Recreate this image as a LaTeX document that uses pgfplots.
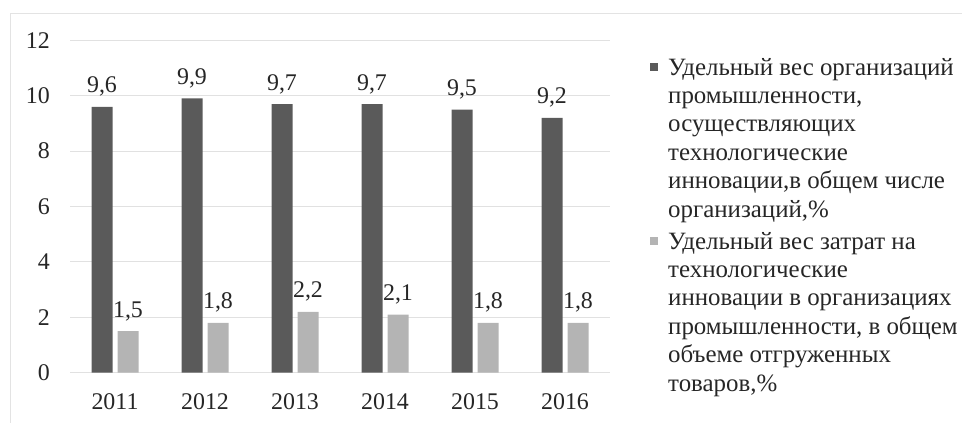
\documentclass[border=0pt]{standalone}
\usepackage{fontspec}
\setmainfont{Liberation Serif}
\usepackage{pgfplots}
\pgfplotsset{compat=1.18}
\definecolor{darkbar}{RGB}{90,90,90}
\definecolor{lightbar}{RGB}{180,180,180}
\definecolor{txt}{RGB}{38,38,38}
\definecolor{gridc}{RGB}{225,225,225}
\begin{document}
\begin{tikzpicture}[x=1bp,y=1bp]
\useasboundingbox (0,0) rectangle (962,422);
\draw[gray!22] (10,-5) -- (10,409) -- (970,409);
\begin{axis}[
  at={(70bp,49.3bp)}, anchor=south west,
  scale only axis, width=540bp, height=332.4bp,
  xmin=-0.5, xmax=5.5, ymin=0, ymax=12,
  ybar=5bp, bar width=21bp,
  xtick={0,1,2,3,4,5},
  xticklabels={2011,2012,2013,2014,2015,2016},
  ytick={0,2,4,6,8,10,12},
  axis line style={draw=none},
  major tick length=0pt,
  ymajorgrids, grid style={gridc, line width=1bp},
  font=\fontsize{24}{28}\selectfont,
  /pgf/number format/assume math mode=true,
  tick label style={text=txt},
  xticklabel style={anchor=base, inner sep=0pt, yshift=-37bp},
  yticklabel style={anchor=east, inner sep=0pt, xshift=-20bp},
  nodes near coords,
  nodes near coords style={text=txt, font=\fontsize{24}{28}\selectfont,
    /pgf/number format/fixed, /pgf/number format/fixed zerofill,
    /pgf/number format/precision=1, /pgf/number format/use comma,
    /pgf/number format/assume math mode=true},
  every node near coord/.append style={anchor=base, inner sep=0pt, yshift=14bp},
  legend style={at={(1,1)}, anchor=north west, xshift=40bp, yshift=-17.5bp,
    draw=none, fill=none, inner sep=0pt, row sep=13.5bp, column sep=0pt,
    font=\fontsize{25}{28.5}\selectfont, text=txt,
    nodes={inner sep=0pt},
    cells={align=left, anchor=west}},
  legend cell align=left,
  legend image code/.code={\fill[#1] (0bp,67bp) rectangle (8bp,75bp); \path[draw=none,fill=none] (0,-75bp) rectangle (18bp,75bp);},
]
\addplot[fill=darkbar, draw=none] coordinates {(0,9.6) (1,9.9) (2,9.7) (3,9.7) (4,9.5) (5,9.2)};
\addplot[fill=lightbar, draw=none] coordinates {(0,1.5) (1,1.8) (2,2.2) (3,2.1) (4,1.8) (5,1.8)};
\legend{{Удельный вес организаций\\промышленности,\\осуществляющих\\технологические\\инновации,в общем числе\\организаций,\%},
{Удельный вес затрат на\\технологические\\инновации в организациях\\промышленности, в общем\\объеме отгруженных\\товаров,\%}}
\end{axis}
\end{tikzpicture}
\end{document}
